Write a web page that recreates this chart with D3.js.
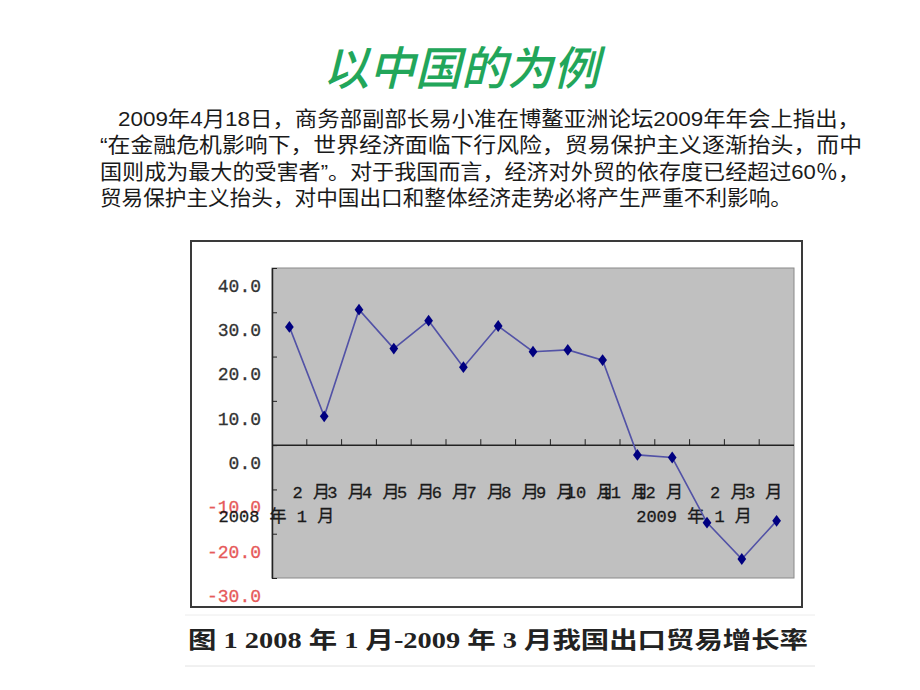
<!DOCTYPE html>
<html><head><meta charset="utf-8">
<script src="https://cdn.jsdelivr.net/npm/d3@7/dist/d3.min.js"></script>
<style>html,body{margin:0;padding:0;background:#fff}svg{display:block}</style>
</head><body>
<script>
const title = "以中国的为例";
const paragraph = [
  "2009年4月18日，商务部副部长易小准在博鳌亚洲论坛2009年年会上指出，",
  "“在金融危机影响下，世界经济面临下行风险，贸易保护主义逐渐抬头，而中",
  "国则成为最大的受害者”。对于我国而言，经济对外贸的依存度已经超过60％，",
  "贸易保护主义抬头，对中国出口和整体经济走势必将产生严重不利影响。"
];
const categories = ["2008 年 1 月","2 月","3 月","4 月","5 月","6 月","7 月","8 月","9 月","10 月","11 月","12 月","2009 年 1 月","2 月","3 月"];
const growth = [26.7, 6.5, 30.6, 21.8, 28.1, 17.6, 26.9, 21.1, 21.5, 19.2, -2.2, -2.8, -17.5, -25.7, -17.1];
const yTicks = [-30, -20, -10, 0, 10, 20, 30, 40];
const caption = "图 1 2008 年 1 月-2009 年 3 月我国出口贸易增长率";

const W = 920, H = 690;
const svg = d3.select("body").append("svg").attr("width", W).attr("height", H);

// title
svg.append("text").attr("x", 461).attr("y", 85).attr("text-anchor", "middle")
  .attr("font-family", "Noto Sans CJK SC").attr("font-size", 46).attr("font-style", "italic")
  .attr("font-weight", 500).attr("fill", "#22a65a").text(title);

// paragraph
const paraX = [118, 100, 100, 100], paraEnd = [860, 862, 860, 792];
paragraph.forEach((line, i) => {
  svg.append("text").attr("x", paraX[i]).attr("y", 126 + i * 26.3)
    .attr("font-family", "Liberation Sans, Noto Sans CJK SC").attr("font-size", 21)
    .attr("fill", "#1a1a1a")
    .attr("textLength", paraEnd[i] - paraX[i]).attr("lengthAdjust", "spacingAndGlyphs")
    .text(line);
});

// chart frame
svg.append("rect").attr("x", 191).attr("y", 241).attr("width", 611).attr("height", 366)
  .attr("fill", "#fff").attr("stroke", "#3a3a3a").attr("stroke-width", 2);

const plot = {l: 272, r: 794, t: 268, b: 578};
const y = d3.scaleLinear().domain([-30, 40]).range([plot.b, plot.t]);
const xb = d3.scaleBand().domain(d3.range(categories.length)).range([plot.l, plot.r]).padding(0);
const cx = i => xb(i) + xb.bandwidth() / 2;

svg.append("rect").attr("x", plot.l).attr("y", plot.t).attr("width", plot.r - plot.l).attr("height", plot.b - plot.t)
  .attr("fill", "#c0c0c0").attr("stroke", "#8a8a8a").attr("stroke-width", 1);

// y axis
const yAxis = d3.axisLeft(y).tickValues(yTicks).tickSizeInner(-5).tickSizeOuter(0).tickPadding(11)
  .tickFormat(d3.format(".1f"));
const gy = svg.append("g").attr("transform", `translate(${plot.l},0)`).call(yAxis);
gy.select(".domain").attr("stroke", "#222").attr("stroke-width", 1.5);
gy.selectAll(".tick line").attr("stroke", "#222");
gy.selectAll(".tick text").attr("font-family", "Liberation Mono, DejaVu Sans Mono").attr("font-size", 18)
  .attr("dy", "1.3em").attr("fill", d => d < 0 ? "#e65a5a" : "#333")
  .attr("stroke", d => d < 0 ? "#e65a5a" : "#333").attr("stroke-width", 0.3)
  .text(d => d3.format(".1f")(d).replace("−", "-"));

// x axis line at zero with upward boundary ticks
const gx = svg.append("g");
gx.append("line").attr("x1", plot.l).attr("x2", plot.r).attr("y1", y(0)).attr("y2", y(0))
  .attr("stroke", "#222").attr("stroke-width", 1.5);
gx.selectAll("line.tk").data(d3.range(1, categories.length)).join("line").attr("class", "tk")
  .attr("x1", i => xb(i)).attr("x2", i => xb(i)).attr("y1", y(0)).attr("y2", y(0) - 6)
  .attr("stroke", "#222").attr("stroke-width", 1);

// category labels
gx.selectAll("text").data(categories).join("text")
  .attr("x", (d, i) => cx(i) - 13)
  .attr("y", d => d.includes("年") ? 517 : 493)
  .attr("dominant-baseline", "central").attr("text-anchor", "middle")
  .attr("font-family", "Liberation Mono, Noto Sans CJK SC").attr("font-size", 17)
  .attr("fill", "#1a1a1a").attr("stroke", "#1a1a1a").attr("stroke-width", 0.3).text(d => d);

// line + markers
const line = d3.line().x((d, i) => cx(i)).y(d => y(d));
svg.append("path").datum(growth).attr("d", line).attr("fill", "none")
  .attr("stroke", "#5252a6").attr("stroke-width", 1.6);
svg.selectAll("path.mk").data(growth).join("path").attr("class", "mk")
  .attr("transform", (d, i) => `translate(${cx(i)},${y(d)}) scale(1.15,0.9)`)
  .attr("d", d3.symbol().type(d3.symbolDiamond).size(50)).attr("fill", "#000080");

// caption + faint rules
svg.append("line").attr("x1", 185).attr("x2", 815).attr("y1", 615).attr("y2", 615).attr("stroke", "#ececec");
svg.append("line").attr("x1", 185).attr("x2", 815).attr("y1", 666).attr("y2", 666).attr("stroke", "#e2e2e2");
svg.append("text").attr("x", 188).attr("y", 648)
  .attr("font-family", "Liberation Serif, Noto Sans CJK SC").attr("font-weight", "bold").attr("font-size", 23)
  .attr("fill", "#222").attr("textLength", 620).attr("lengthAdjust", "spacingAndGlyphs").text(caption);
</script>
</body></html>
